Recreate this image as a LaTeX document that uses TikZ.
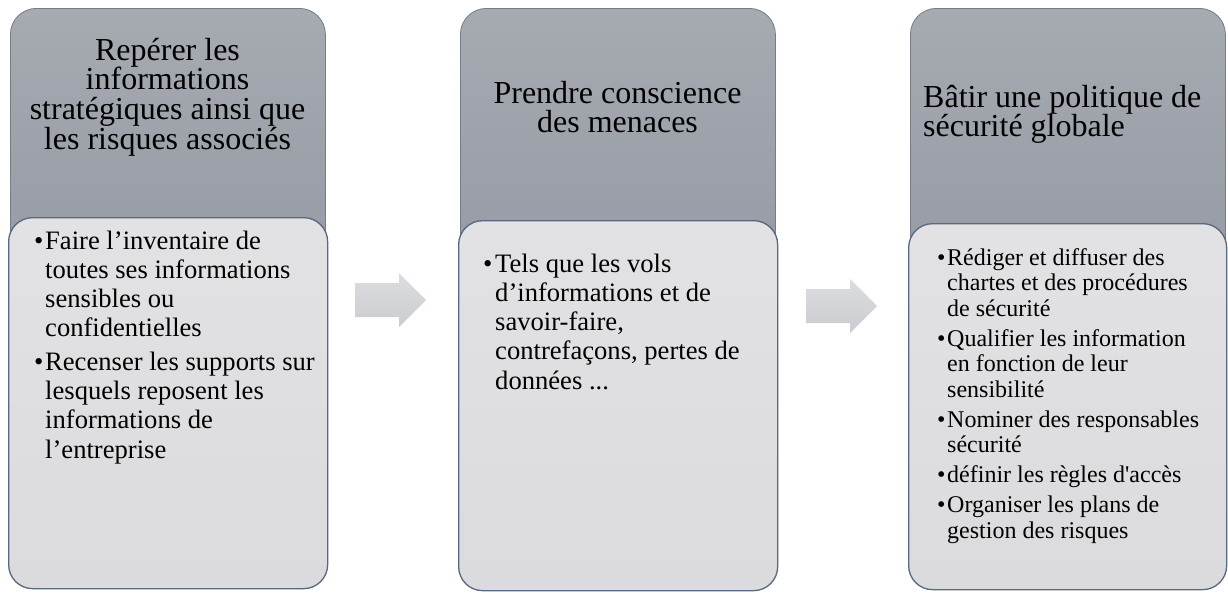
\documentclass[tikz,border=0pt]{standalone}
\usepackage{fontspec}
\setmainfont{Liberation Serif}[Ligatures=TeXOff]
\definecolor{topA}{RGB}{166,170,177}
\definecolor{topB}{RGB}{146,151,162}
\definecolor{topline}{RGB}{118,124,136}
\definecolor{lowA}{RGB}{226,226,228}
\definecolor{lowB}{RGB}{219,219,221}
\definecolor{lowline}{RGB}{88,104,128}
\definecolor{arrA}{RGB}{220,221,224}
\definecolor{arrB}{RGB}{203,204,208}
\newcommand\titlefont{\fontsize{32pt}{29.8pt}\selectfont}
\newcommand\bulfontA{\fontsize{26.6pt}{29.3pt}\selectfont}
\newcommand\bulfontB{\fontsize{24pt}{25.5pt}\selectfont}
\newcommand\itm[2][11pt]{\hangindent=#1\hangafter=1\noindent\makebox[#1][l]{•}#2\par}
\begin{document}
\begin{tikzpicture}[x=1pt,y=-1pt,
  topbox/.style={draw=topline, line width=0.8pt, rounded corners=26pt, top color=topA, bottom color=topB, anchor=north west, inner sep=0pt, minimum width=315pt, minimum height=322pt},
  lowbox/.style={draw=lowline, line width=1.3pt, rounded corners=24pt, top color=lowA, bottom color=lowB, anchor=north west, inner sep=0pt, minimum width=319pt},
  blockarrow/.style={top color=arrA, bottom color=arrB, draw=none},
  txt/.style={inner sep=0pt}]
\fill[white] (0,0) rectangle (1228,592);
\useasboundingbox (0,0) rectangle (1228,592);
% header boxes
\node[topbox] (h1) at (10,8) {};
\node[topbox] (h2) at (460,8) {};
\node[topbox] (h3) at (910,8) {};
% lower boxes
\node[lowbox, minimum height=371pt] (l1) at (8,217) {};
\node[lowbox, minimum height=370pt] (l2) at (458,220) {};
\node[lowbox, minimum width=318pt, minimum height=366pt] (l3) at (908,223) {};
% block arrows
\path[blockarrow] (355,283) -- (399,283) -- (399,273) -- (426,300) -- (399,327) -- (399,317) -- (355,317) -- cycle;
\path[blockarrow] (806,289) -- (850,289) -- (850,279) -- (877,306) -- (850,333) -- (850,323) -- (806,323) -- cycle;
% titles
\node[txt, anchor=base] (t1) at (167.5,60) {\parbox[t]{310pt}{\centering\titlefont Repérer les\\informations\\stratégiques ainsi que\\les risques associés}};
\node[txt, anchor=base] (t2) at (617.5,103) {\parbox[t]{310pt}{\centering\titlefont Prendre conscience\\des menaces}};
\node[txt, anchor=base west] (t3) at (923,107) {\parbox[t]{300pt}{\raggedright\titlefont Bâtir une politique de\\sécurité globale}};
% bullet texts
\node[txt, anchor=base west] (b1) at (34,249) {\parbox[t]{290pt}{\bulfontA\setlength\parskip{4pt}%
\itm{Faire l’inventaire de\newline toutes ses informations\newline sensibles ou\newline confidentielles}%
\itm{Recenser les supports sur\newline lesquels reposent les\newline informations de\newline l’entreprise}}};
\node[txt, anchor=base west] (b2) at (483,272) {\parbox[t]{290pt}{\bulfontA\setlength\parskip{4pt}%
\itm[12pt]{Tels que les vols\newline d’informations et de\newline savoir-faire,\newline contrefaçons, pertes de\newline données ...}}};
\node[txt, anchor=base west] (b3) at (937,265) {\parbox[t]{280pt}{\bulfontB\setlength\parskip{4.5pt}%
\itm[10pt]{Rédiger et diffuser des\newline chartes et des procédures\newline de sécurité}%
\itm[10pt]{Qualifier les information\newline en fonction de leur\newline sensibilité}%
\itm[10pt]{Nominer des responsables\newline sécurité}%
\itm[10pt]{définir les règles d'accès}%
\itm[10pt]{Organiser les plans de\newline gestion des risques}}};
\end{tikzpicture}
\end{document}
